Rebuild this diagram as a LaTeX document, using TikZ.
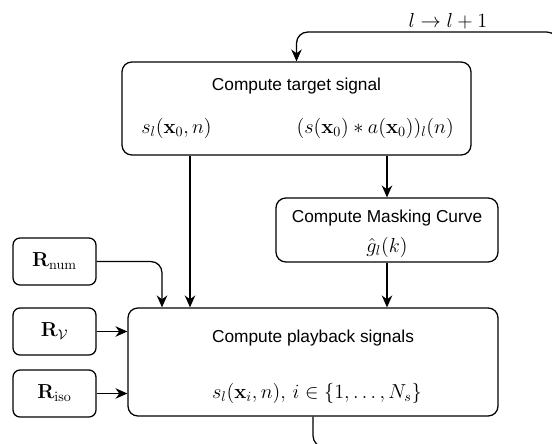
\documentclass[tikz,border=0pt]{standalone}
\usepackage{amsmath,amssymb}
\usepackage[no-math]{fontspec}
\setmainfont{Liberation Sans}
\usetikzlibrary{arrows.meta, calc}
\tikzset{
    block/.style = {draw, line width=0.9pt, rounded corners=7pt, inner sep=0pt},
    smallblock/.style = {draw, line width=0.9pt, rounded corners=5pt, inner sep=0pt,
        minimum width=83*0.025cm, minimum height=47*0.025cm, font=\fontsize{14.3}{16}\selectfont},
    txt/.style = {inner sep=0pt, font=\fontsize{12.3}{14}\selectfont},
    mth/.style = {inner sep=0pt, font=\fontsize{13.6}{16}\selectfont},
    arr/.style = {-{Stealth[length=8.5pt, width=7.5pt]}, line width=0.9pt},
}

\begin{document}
\begin{tikzpicture}[x=0.025cm, y=-0.025cm]
\useasboundingbox (0,0) rectangle (552,443);

% blocks
\node[block, minimum width=349*0.025cm, minimum height=93*0.025cm] (target) at (296.5,108.5) {};
\node[txt] (targettitle) at (296.5,86) {Compute target signal};
\node[mth, anchor=west] (sl0) at (141,128) {$s_l(\mathbf{x}_0,n)$};
\node[mth, anchor=east] (conv) at (454,128) {$(s(\mathbf{x}_0)*a(\mathbf{x}_0))_l(n)$};

\node[block, minimum width=222*0.025cm, minimum height=64*0.025cm] (mask) at (387,230) {};
\node[txt] (masktitle) at (387,218) {Compute Masking Curve};
\node[mth] (gl) at (387,247) {$\hat{g}_l(k)$};

\node[block, minimum width=370*0.025cm, minimum height=108*0.025cm] (play) at (313,362) {};
\node[txt] (playtitle) at (313,338) {Compute playback signals};
\node[mth] (sli) at (317,393) {$s_l(\mathbf{x}_i,n),\, i\in\{1,\dots,N_s\}$};

\node[smallblock] (rnum) at (54.5,261.5) {$\mathbf{R}_{\mathrm{num}}$};
\node[smallblock] (rv) at (54.5,331.5) {$\mathbf{R}_{\mathcal{V}}$};
\node[smallblock] (riso) at (54.5,393.5) {$\mathbf{R}_{\mathrm{iso}}$};

% connectors
\draw[arr] (target.south -| 190,0) -- (play.north -| 190,0);
\draw[arr] (target.south -| mask.north) -- (mask.north);
\draw[arr] (mask.south) -- (play.north -| mask.south);
\draw[arr, rounded corners=8pt] (rnum.east) -| (play.north -| 162,0);
\draw[arr] (rv.east) -- (play.west |- rv.east);
\draw[arr] (riso.east) -- (play.west |- riso.east);

% feedback l -> l+1
\coordinate (loopin) at (target.north);
\draw[arr, rounded corners=8pt] (play.south) -- (313,447) -- (558,447) -- (558,32) -- (296.5,32) -- (loopin);
\node[mth, anchor=south] (inc) at (448,29) {$l\rightarrow l+1$};
\end{tikzpicture}
\end{document}
